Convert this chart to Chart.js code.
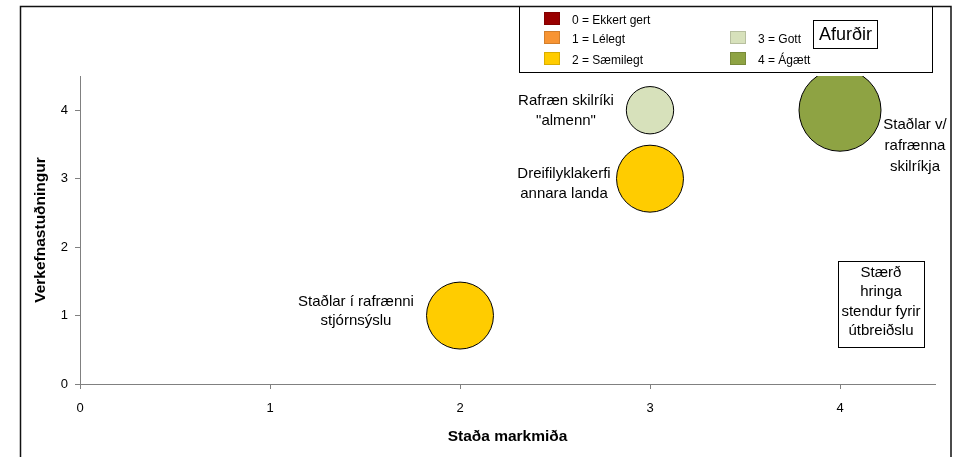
<!DOCTYPE html>
<html>
<head>
<meta charset="utf-8">
<script src="https://cdn.jsdelivr.net/npm/chart.js@4"></script>
<style>
  html, body { margin: 0; padding: 0; background: #fff; }
  #wrap { width: 955px; height: 457px; }
</style>
</head>
<body>
<div id="wrap"><canvas id="chart-area" width="955" height="457"></canvas></div>
<script>
// gögn
const verkefni = [
    ['Staðlar í rafrænni', 'stjórnsýslu'],
    ['Dreifilyklakerfi', 'annara landa'],
    ['Rafræn skilríki', '"almenn"'],
    ['Staðlar v/', 'rafrænna', 'skilríkja']
];
const stadaMarkmida = [2, 3, 3, 4];
const verkefnastudningur = [1, 3, 4, 4];
const utbreidsla = [2, 2, 1, 3];
const afurdir = [2, 2, 3, 4];

const einkunnir = ['0 = Ekkert gert', '1 = Lélegt', '2 = Sæmilegt', '3 = Gott', '4 = Ágætt'];
const einkunnLitir = ['#990000', '#F79433', '#FFCC00', '#D7E1BB', '#8EA343'];
const xTicks = [0, 1, 2, 3, 4];
const yTicks = [0, 1, 2, 3, 4];

const font = 'Liberation Sans, Arial, sans-serif';
const maxRadius = 41;

// hvar merkin standa miðað við hringinn (pixlar)
const labelOffsets = [
    { dx: -104, dy: -4, lh: 19 },
    { dx: -86, dy: 5, lh: 20 },
    { dx: -84, dy: 1, lh: 20 },
    { dx: 75, dy: 36, lh: 21 }
];

const points = stadaMarkmida.map(function(x, i) {
    return { x: x, y: verkefnastudningur[i], r: maxRadius * Math.sqrt(utbreidsla[i] / 3) };
});

const annotations = {
    id: 'annotations',
    afterDatasetsDraw: function(chart) {
        const ctx = chart.ctx;
        const meta = chart.getDatasetMeta(0);
        ctx.save();
        ctx.fillStyle = '#000';
        ctx.font = '15px ' + font;
        ctx.textAlign = 'center';
        ctx.textBaseline = 'middle';
        meta.data.forEach(function(el, i) {
            const o = labelOffsets[i];
            const lines = verkefni[i];
            const top = el.y + o.dy - (lines.length - 1) * o.lh / 2;
            lines.forEach(function(t, j) {
                ctx.fillText(t, el.x + o.dx, top + j * o.lh);
            });
        });
        ctx.restore();
    },
    afterDraw: function(chart) {
        const ctx = chart.ctx;
        const area = chart.chartArea;
        ctx.save();

        // skýringarkassi
        ctx.fillStyle = '#fff';
        ctx.fillRect(519, 6, 413, 66);
        ctx.strokeStyle = '#000';
        ctx.lineWidth = 1;
        ctx.strokeRect(519.5, 6.5, 413, 66);

        const rows = [
            { col: 0, y: 18 }, { col: 0, y: 37 }, { col: 0, y: 58 },
            { col: 1, y: 37 }, { col: 1, y: 58 }
        ];
        const colX = [544, 730];
        ctx.font = '12px ' + font;
        ctx.textAlign = 'left';
        ctx.textBaseline = 'middle';
        einkunnir.forEach(function(t, i) {
            const r = rows[i];
            const x = colX[r.col];
            ctx.fillStyle = einkunnLitir[i];
            ctx.fillRect(x, r.y - 6, 16, 13);
            ctx.strokeStyle = 'rgba(0,0,0,0.15)';
            ctx.strokeRect(x + 0.5, r.y - 5.5, 15, 12);
            ctx.fillStyle = '#000';
            ctx.fillText(t, x + 28, r.y + 3);
        });

        // Afurðir
        ctx.strokeStyle = '#000';
        ctx.strokeRect(813.5, 20.5, 64, 28);
        ctx.font = '18px ' + font;
        ctx.textAlign = 'center';
        ctx.fillText('Afurðir', 845.5, 35);

        // stærð hringa
        const bx = area.right - 97, by = area.bottom - 123;
        ctx.strokeRect(bx + 0.5, by + 0.5, 86, 86);
        ctx.font = '15px ' + font;
        ['Stærð', 'hringa', 'stendur fyrir', 'útbreiðslu'].forEach(function(t, j) {
            ctx.fillText(t, bx + 43, by + 12 + j * 19.3);
        });

        // rammi
        ctx.lineWidth = 1.5;
        ctx.strokeStyle = '#111';
        ctx.beginPath();
        ctx.moveTo(20.5, 470);
        ctx.lineTo(20.5, 6.5);
        ctx.lineTo(951, 6.5);
        ctx.lineTo(951, 470);
        ctx.stroke();
        ctx.restore();
    }
};

var config = {
    type: 'bubble',
    data: {
        datasets: [{
            label: 'Verkefni',
            data: points,
            backgroundColor: afurdir.map(function(a) { return einkunnLitir[a]; }),
            borderColor: '#000',
            borderWidth: 1,
            hoverBorderWidth: 1,
            clip: 0
        }]
    },
    options: {
        responsive: false,
        animation: false,
        events: [],
        layout: { autoPadding: false, padding: { left: 20, top: 76, right: 20, bottom: 0 } },
        plugins: {
            legend: { display: false },
            tooltip: { enabled: false }
        },
        scales: {
            x: {
                type: 'linear',
                min: 0,
                max: 4.5,
                afterFit: function(scale) {
                    scale.height = 73;
                    scale.paddingLeft = 0;
                    scale.paddingRight = 0;
                },
                afterBuildTicks: function(scale) {
                    scale.ticks = xTicks.map(function(v) { return { value: v }; });
                },
                border: { display: true, color: '#808080', width: 1 },
                grid: { drawOnChartArea: false, drawTicks: true, tickLength: 5, color: '#808080' },
                ticks: { color: '#000', font: { family: font, size: 13 }, padding: 12 },
                title: {
                    display: true,
                    text: 'Staða markmiða',
                    color: '#000',
                    font: { family: font, size: 15.5, weight: 'bold' },
                    padding: { top: 0, bottom: 11 }
                }
            },
            y: {
                type: 'linear',
                min: 0,
                max: 4.5,
                afterFit: function(scale) {
                    scale.width = 60;
                    scale.paddingTop = 0;
                    scale.paddingBottom = 0;
                },
                afterBuildTicks: function(scale) {
                    scale.ticks = yTicks.map(function(v) { return { value: v }; });
                },
                border: { display: true, color: '#808080', width: 1 },
                grid: { drawOnChartArea: false, drawTicks: true, tickLength: 5, color: '#808080' },
                ticks: { color: '#000', font: { family: font, size: 13 }, padding: 7 },
                title: {
                    display: true,
                    text: 'Verkefnastuðningur',
                    color: '#000',
                    font: { family: font, size: 15.5, weight: 'bold' },
                    padding: { top: 11, bottom: 0 }
                }
            }
        }
    },
    plugins: [annotations]
};

var ctx = document.getElementById('chart-area').getContext('2d');
window.myBubble = new Chart(ctx, config);
</script>
</body>
</html>
